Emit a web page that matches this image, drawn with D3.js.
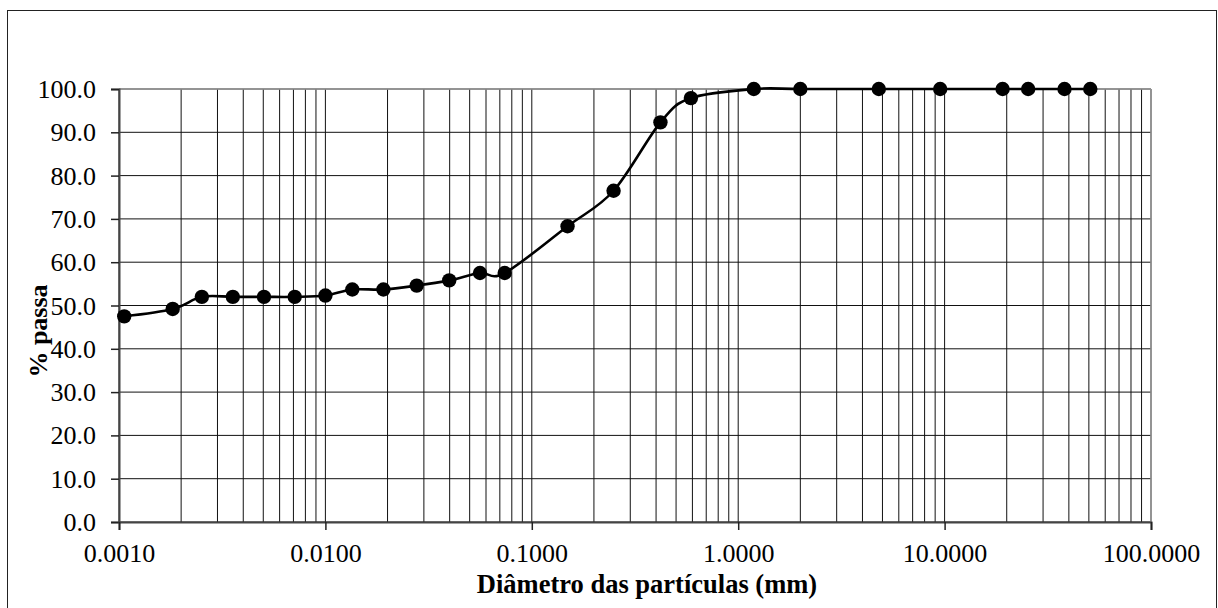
<!DOCTYPE html>
<html>
<head>
<meta charset="utf-8">
<script src="https://cdn.jsdelivr.net/npm/d3@7/dist/d3.min.js"></script>
<style>
  html, body { margin: 0; padding: 0; background: #fff; }
  svg { display: block; }
  text { font-family: "Liberation Serif", "Times New Roman", serif; fill: #000; }
</style>
</head>
<body>
<svg id="chart" width="1218" height="608"></svg>
<script>
// ---- Data ----
const diameters = [0.00106, 0.00182, 0.00252, 0.00356, 0.00504, 0.0071, 0.0100, 0.0135, 0.0191,
                   0.0277, 0.0398, 0.0561, 0.0739, 0.149, 0.249, 0.420, 0.590, 1.19, 2.00,
                   4.80, 9.52, 19.1, 25.4, 38.1, 50.8];
const passing   = [47.5, 49.2, 52.0, 52.0, 52.0, 52.0, 52.3, 53.7, 53.7,
                   54.6, 55.8, 57.5, 57.5, 68.3, 76.5, 92.3, 97.9, 100, 100,
                   100, 100, 100, 100, 100, 100];
const xTickValues = [0.001, 0.01, 0.1, 1, 10, 100];
const xTickLabels = ["0.0010", "0.0100", "0.1000", "1.0000", "10.0000", "100.0000"];
const yTickValues = [0, 10, 20, 30, 40, 50, 60, 70, 80, 90, 100];
const yTickLabels = ["0.0", "10.0", "20.0", "30.0", "40.0", "50.0", "60.0", "70.0", "80.0", "90.0", "100.0"];
const xTitle = "Diâmetro das partículas (mm)";
const yTitle = "% passa";

// ---- Layout ----
const svg = d3.select("#chart");
const pL = 119, pR = 1151, pT = 89, pB = 522;
const x = d3.scaleLog().domain([0.001, 100]).range([pL, pR]);
const y = d3.scaleLinear().domain([0, 100]).range([pB, pT]);

// outer chart border
svg.append("rect")
  .attr("x", 7.5).attr("y", 10.5).attr("width", 1209).attr("height", 620)
  .attr("fill", "none").attr("stroke", "#222").attr("stroke-width", 1);

// vertical grid lines (1..9 per decade)
const grid = svg.append("g");
grid.selectAll("line.v").data(x.ticks()).join("line")
  .attr("class", "v")
  .attr("x1", d => x(d)).attr("x2", d => x(d))
  .attr("y1", pT).attr("y2", pB)
  .attr("stroke", "#111").attr("stroke-width", 1);

// horizontal grid lines
grid.selectAll("line.h").data(yTickValues).join("line")
  .attr("class", "h")
  .attr("x1", pL).attr("x2", pR)
  .attr("y1", d => y(d)).attr("y2", d => y(d))
  .attr("stroke", "#111").attr("stroke-width", 1);

// plot area border (top / right) - gray
svg.append("line").attr("x1", pL).attr("x2", pR).attr("y1", pT).attr("y2", pT)
  .attr("stroke", "#999").attr("stroke-width", 1.5);
svg.append("line").attr("x1", pR).attr("x2", pR).attr("y1", pT).attr("y2", pB)
  .attr("stroke", "#999").attr("stroke-width", 1.5);

// axes
const yAxis = d3.axisLeft(y).tickValues(yTickValues).tickSize(8)
  .tickFormat((d, i) => yTickLabels[i]);
const gy = svg.append("g").attr("transform", `translate(${pL},0)`).call(yAxis);
gy.select(".domain").attr("stroke", "#444").attr("stroke-width", 2);
gy.selectAll(".tick line").attr("stroke", "#222").attr("stroke-width", 1.5);
gy.selectAll(".tick text")
  .attr("x", -23).attr("dy", "0.33em")
  .style("font-family", '"Liberation Serif", "Times New Roman", serif')
  .style("font-size", "26px").attr("fill", "#000");

const xAxis = d3.axisBottom(x).tickValues(xTickValues).tickSize(8)
  .tickFormat((d, i) => xTickLabels[i]);
const gx = svg.append("g").attr("transform", `translate(0,${pB})`).call(xAxis);
gx.select(".domain").attr("stroke", "#444").attr("stroke-width", 2);
gx.selectAll(".tick line").attr("stroke", "#222").attr("stroke-width", 1.5);
gx.selectAll(".tick text")
  .attr("y", 40).attr("dy", "0")
  .style("font-family", '"Liberation Serif", "Times New Roman", serif')
  .style("font-size", "26px").attr("fill", "#000");

// axis titles
svg.append("text")
  .attr("x", 647).attr("y", 593)
  .attr("text-anchor", "middle")
  .style("font-size", "26.5px").style("font-weight", "bold")
  .text(xTitle);

svg.append("text")
  .attr("transform", "translate(47,331) rotate(-90)")
  .attr("text-anchor", "middle")
  .style("font-size", "26px").style("font-weight", "bold")
  .text(yTitle);

// data
const pts = diameters.map((d, i) => [d, passing[i]]);
const line = d3.line()
  .x(d => x(d[0])).y(d => y(d[1]))
  .curve(d3.curveCardinal.tension(0));
svg.append("path").datum(pts)
  .attr("d", line)
  .attr("fill", "none").attr("stroke", "#000").attr("stroke-width", 2.6);

svg.append("g").selectAll("circle").data(pts).join("circle")
  .attr("cx", d => x(d[0])).attr("cy", d => y(d[1]))
  .attr("r", 7.2).attr("fill", "#000");
</script>
</body>
</html>
